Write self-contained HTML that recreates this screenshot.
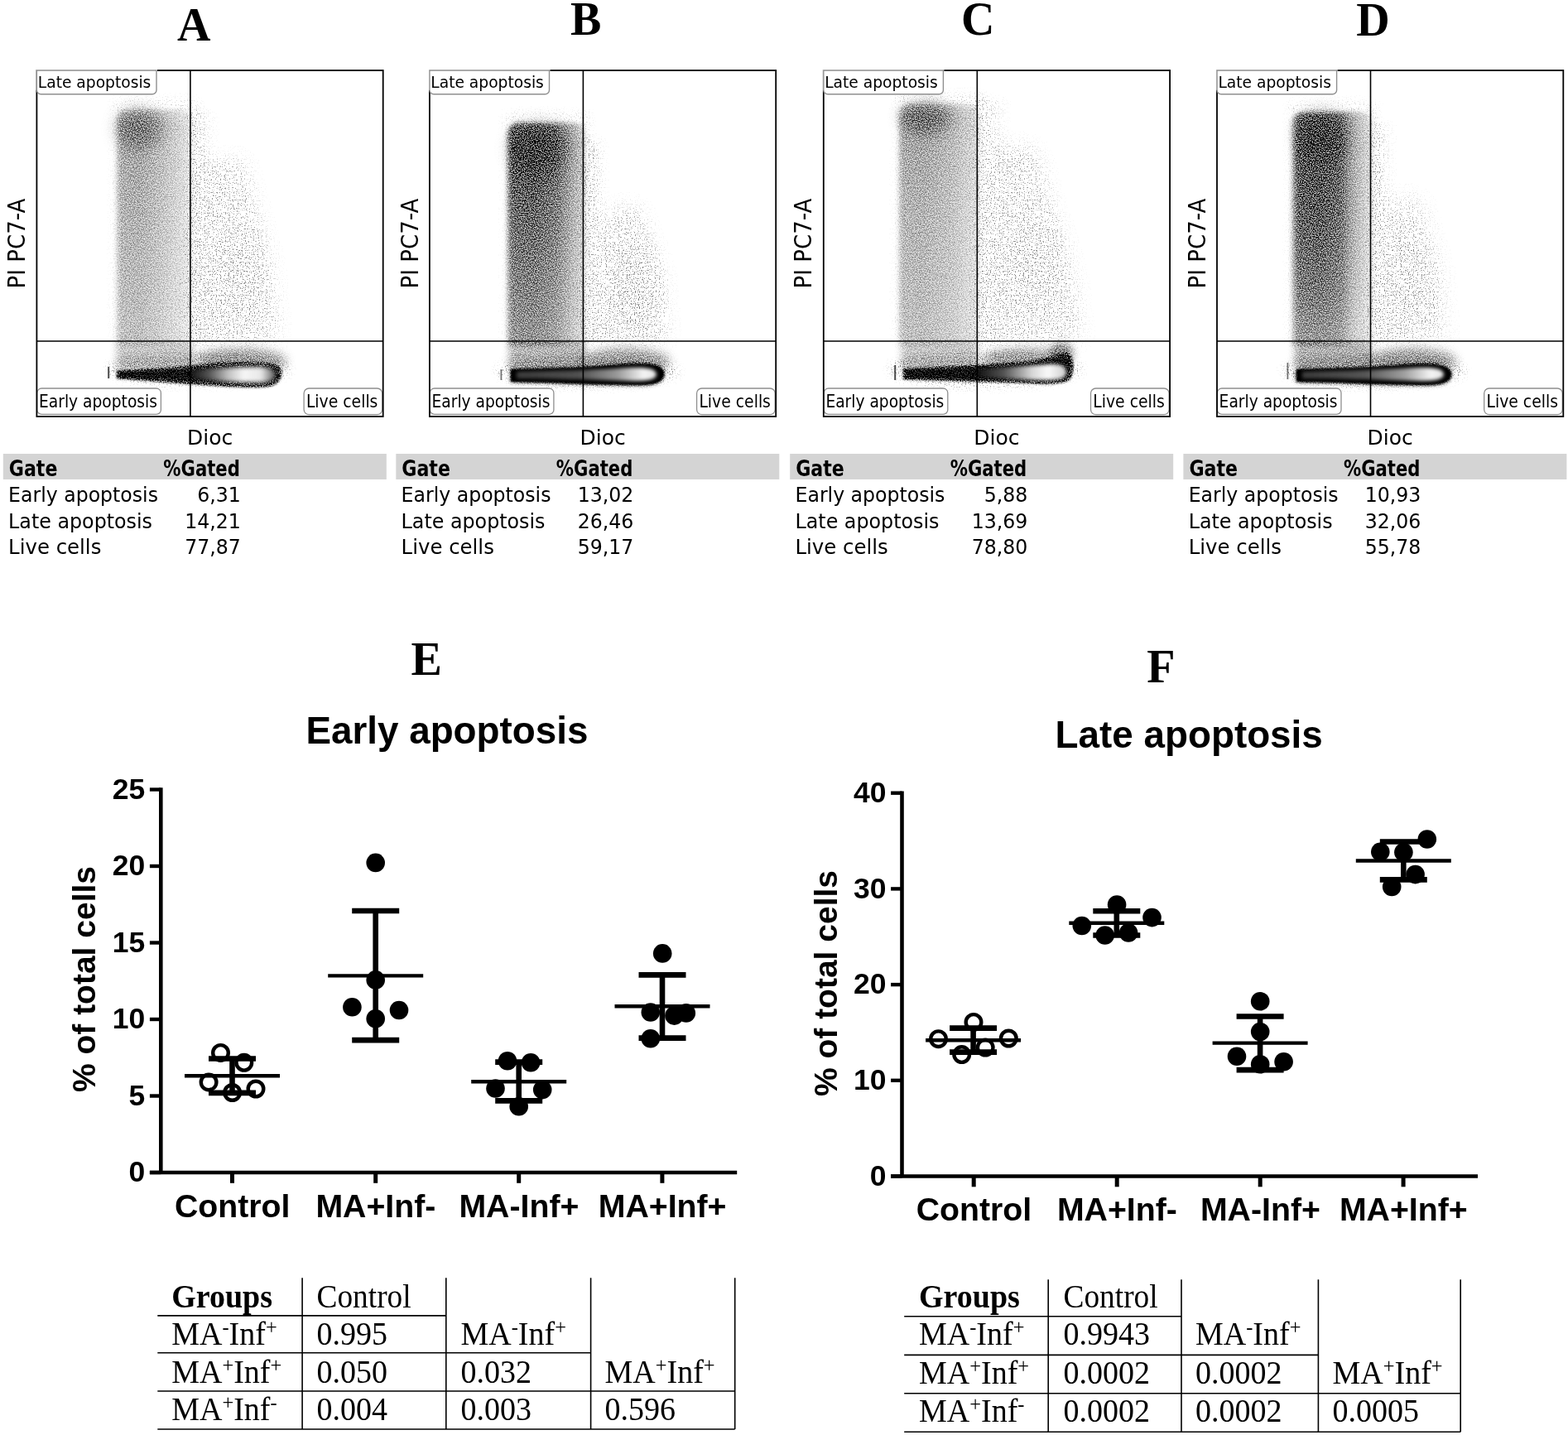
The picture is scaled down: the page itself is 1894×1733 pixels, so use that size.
<!DOCTYPE html><html><head><meta charset="utf-8"><title>Apoptosis figure</title>
<style>html,body{margin:0;padding:0;background:#fff;width:1894px;height:1733px;overflow:hidden}svg{display:block}</style></head><body>
<svg width="1894" height="1733" viewBox="0 0 1894 1733">
<defs>
<clipPath id="clip0"><rect x="44.4" y="85.0" width="418.3" height="418.0"/></clipPath>
<clipPath id="clip1"><rect x="518.9" y="85.0" width="418.3" height="418.0"/></clipPath>
<clipPath id="clip2"><rect x="994.8" y="85.0" width="418.3" height="418.0"/></clipPath>
<clipPath id="clip3"><rect x="1470.0" y="85.0" width="418.3" height="418.0"/></clipPath>
<filter id="dith" filterUnits="userSpaceOnUse" x="0" y="80" width="1894" height="430" color-interpolation-filters="sRGB"><feTurbulence type="fractalNoise" baseFrequency="0.75" numOctaves="1" seed="7" result="t"/><feComponentTransfer in="t" result="u"><feFuncR type="table" tableValues="0 0 0 0 0.002 0.008 0.026 0.073 0.166 0.314 0.5 0.686 0.834 0.927 0.974 0.992 0.998 1 1 1 1"/></feComponentTransfer><feColorMatrix in="u" type="matrix" values="0 0 0 0 0 0 0 0 0 0 0 0 0 0 0 1 0 0 0 0" result="ua"/><feComposite in="SourceAlpha" in2="ua" operator="arithmetic" k1="1.4" k2="0.3" k3="0" k4="0" result="c"/><feColorMatrix in="c" type="matrix" values="0 0 0 0 0 0 0 0 0 0 0 0 0 0 0 0 0 0 1 0"/><feGaussianBlur stdDeviation="0.4"/></filter>
<filter id="dithb" filterUnits="userSpaceOnUse" x="0" y="80" width="1894" height="430" color-interpolation-filters="sRGB"><feTurbulence type="fractalNoise" baseFrequency="0.8" numOctaves="1" seed="3" result="t"/><feComponentTransfer in="t" result="u"><feFuncR type="table" tableValues="0 0 0 0 0.002 0.008 0.026 0.073 0.166 0.314 0.5 0.686 0.834 0.927 0.974 0.992 0.998 1 1 1 1"/></feComponentTransfer><feColorMatrix in="u" type="matrix" values="0 0 0 0 0 0 0 0 0 0 0 0 0 0 0 1 0 0 0 0" result="ua"/><feComposite in="SourceAlpha" in2="ua" operator="arithmetic" k1="0" k2="3" k3="-3" k4="0.5" result="c"/><feComponentTransfer in="SourceAlpha" result="m"><feFuncA type="linear" slope="25"/></feComponentTransfer><feComposite in="c" in2="m" operator="in" result="c2"/><feColorMatrix in="c2" type="matrix" values="0 0 0 0 0 0 0 0 0 0 0 0 0 0 0 0 0 0 0.7 0"/><feGaussianBlur stdDeviation="0.55"/></filter>
<filter id="b0_3" x="-50%" y="-50%" width="200%" height="200%"><feGaussianBlur stdDeviation="0.3"/></filter>
<filter id="b0_9" x="-50%" y="-50%" width="200%" height="200%"><feGaussianBlur stdDeviation="0.9"/></filter>
<filter id="b1_2" x="-50%" y="-50%" width="200%" height="200%"><feGaussianBlur stdDeviation="1.2"/></filter>
<filter id="b1_6" x="-50%" y="-50%" width="200%" height="200%"><feGaussianBlur stdDeviation="1.6"/></filter>
<filter id="b2_2" x="-50%" y="-50%" width="200%" height="200%"><feGaussianBlur stdDeviation="2.2"/></filter>
<filter id="b2_4" x="-50%" y="-50%" width="200%" height="200%"><feGaussianBlur stdDeviation="2.4"/></filter>
<filter id="b2_5" x="-50%" y="-50%" width="200%" height="200%"><feGaussianBlur stdDeviation="2.5"/></filter>
<filter id="b2_8" x="-50%" y="-50%" width="200%" height="200%"><feGaussianBlur stdDeviation="2.8"/></filter>
<filter id="b4" x="-50%" y="-50%" width="200%" height="200%"><feGaussianBlur stdDeviation="4"/></filter>
<filter id="b5" x="-50%" y="-50%" width="200%" height="200%"><feGaussianBlur stdDeviation="5"/></filter>
<filter id="b6" x="-50%" y="-50%" width="200%" height="200%"><feGaussianBlur stdDeviation="6"/></filter>
<filter id="b8" x="-50%" y="-50%" width="200%" height="200%"><feGaussianBlur stdDeviation="8"/></filter>
<filter id="b9" x="-50%" y="-50%" width="200%" height="200%"><feGaussianBlur stdDeviation="9"/></filter>
<filter id="b10" x="-50%" y="-50%" width="200%" height="200%"><feGaussianBlur stdDeviation="10"/></filter>
<filter id="b12" x="-50%" y="-50%" width="200%" height="200%"><feGaussianBlur stdDeviation="12"/></filter>
<filter id="b14" x="-50%" y="-50%" width="200%" height="200%"><feGaussianBlur stdDeviation="14"/></filter>
</defs>
<rect width="1894" height="1733" fill="#fff"/>
<text transform="translate(214.00 48.80)" style="font-family:'Liberation Serif','Times New Roman',serif;font-weight:bold;font-size:56px">A</text>
<g clip-path="url(#clip0)"><g filter="url(#dithb)"><rect x="137" y="120" width="103" height="295" fill="#000" fill-opacity="0.025" filter="url(#b6)"/><rect x="231" y="135" width="32" height="277" fill="url(#g0)" filter="url(#b6)"/><path d="M248 200L292 192L326 320L334 412L236 412L238 300Z" fill="#000" fill-opacity="0.055" filter="url(#b12)"/><ellipse cx="286" cy="335" rx="25" ry="55" fill="#000" fill-opacity="0.04" filter="url(#b12)"/><ellipse cx="240" cy="446" rx="110" ry="18" fill="#000" fill-opacity="0.07" filter="url(#b6)"/></g><g filter="url(#dith)"><g filter="url(#b2_5)"><g clip-path="url(#g4)"><rect x="140" y="126" width="96" height="292" fill="url(#g1)" mask="url(#g3)"/></g></g><ellipse cx="168" cy="155" rx="28" ry="24" fill="#000" fill-opacity="0.26" filter="url(#b9)"/><rect x="141" y="413" width="92" height="33" fill="url(#g5)" filter="url(#b4)"/><ellipse cx="290" cy="436" rx="56" ry="15" fill="#000" fill-opacity="0.36" filter="url(#b6)"/><path d="M141 447.5C180 446 215 444 240 441C270 437 320 436 336 442C344 450 340 465 322 467C290 469 240 464 141 457Z" fill="#000" fill-opacity="1.0" filter="url(#b1_6)"/></g><path d="M145 449.5C190 448.5 230 447 260 445C300 443 330 443 333 449C335 456 330 461 318 461C280 462 230 458 145 455Z" fill="#000" fill-opacity="0.55" filter="url(#b1_2)"/><path d="M130.2 443h2v14h-2z" fill="#000" fill-opacity="0.7" filter="url(#b0_3)"/><path d="M232 447C260 444 290 443 315 443C329 444 333 448 333 453C333 459 326 462 312 462C285 462 258 460 232 457Z" fill="url(#g6)" filter="url(#b2_4)"/></g>
<line x1="229.9" y1="85.0" x2="229.9" y2="503.0" stroke="#000" stroke-width="1.6"/>
<line x1="44.4" y1="412.0" x2="462.7" y2="412.0" stroke="#000" stroke-width="1.6"/>
<rect x="44.8" y="469" width="149.6" height="31.4" rx="5.5" fill="#fff" stroke="#8f8f8f" stroke-width="1.3"/>
<text transform="translate(47.00 492.30) scale(1.0220 1)" style="font-family:'DejaVu Sans','Liberation Sans',sans-serif;font-stretch:condensed;font-size:20.3px">Early apoptosis</text>
<rect x="367.1" y="469" width="94.6" height="31.6" rx="6" fill="#fff" stroke="#8f8f8f" stroke-width="1.3"/>
<text transform="translate(369.90 492.30) scale(1.0300 1)" style="font-family:'DejaVu Sans','Liberation Sans',sans-serif;font-stretch:condensed;font-size:20.3px">Live cells</text>
<rect x="44.4" y="85.0" width="418.3" height="418.0" fill="none" stroke="#000" stroke-width="1.8"/>
<path d="M43.5 84.1H189.9V108.8H43.5Z" fill="#fff"/>
<path d="M44.4 85H189.0V108.8A5 5 0 0 1 184.0 113.8H49.4A5 5 0 0 1 44.4 108.8Z" fill="#fff" stroke="#8f8f8f" stroke-width="1.4"/>
<text transform="translate(45.80 105.60) scale(1.0230 1)" style="font-family:'DejaVu Sans','Liberation Sans',sans-serif;font-stretch:condensed;font-size:20.3px">Late apoptosis</text>
<text transform="translate(30.00 294.00) rotate(-90) scale(1.0350 1)" style="font-family:'DejaVu Sans','Liberation Sans',sans-serif;font-stretch:condensed;font-size:28px" text-anchor="middle">PI PC7-A</text>
<text transform="translate(253.55 536.70) scale(1.0900 1)" style="font-family:'DejaVu Sans','Liberation Sans',sans-serif;font-stretch:condensed;font-size:25.5px" text-anchor="middle">Dioc</text>
<rect x="3.8" y="548" width="463" height="31" fill="#d4d4d4"/>
<text transform="translate(10.80 574.60) scale(0.9450 1)" style="font-family:'DejaVu Sans','Liberation Sans',sans-serif;font-stretch:condensed;font-weight:bold;font-size:26px">Gate</text>
<text transform="translate(289.80 574.60) scale(0.9050 1)" style="font-family:'DejaVu Sans','Liberation Sans',sans-serif;font-stretch:condensed;font-weight:bold;font-size:26px" text-anchor="end">%Gated</text>
<text transform="translate(10.10 606.00) scale(1.0500 1)" style="font-family:'DejaVu Sans','Liberation Sans',sans-serif;font-stretch:condensed;font-size:25px">Early apoptosis</text>
<text transform="translate(290.80 606.00) scale(1.0500 1)" style="font-family:'DejaVu Sans','Liberation Sans',sans-serif;font-stretch:condensed;font-size:25px" text-anchor="end">6,31</text>
<text transform="translate(10.10 637.80) scale(1.0580 1)" style="font-family:'DejaVu Sans','Liberation Sans',sans-serif;font-stretch:condensed;font-size:25px">Late apoptosis</text>
<text transform="translate(290.80 637.80) scale(1.0500 1)" style="font-family:'DejaVu Sans','Liberation Sans',sans-serif;font-stretch:condensed;font-size:25px" text-anchor="end">14,21</text>
<text transform="translate(10.10 669.00) scale(1.0850 1)" style="font-family:'DejaVu Sans','Liberation Sans',sans-serif;font-stretch:condensed;font-size:25px">Live cells</text>
<text transform="translate(290.80 669.00) scale(1.0500 1)" style="font-family:'DejaVu Sans','Liberation Sans',sans-serif;font-stretch:condensed;font-size:25px" text-anchor="end">77,87</text>
<text transform="translate(689.00 41.90)" style="font-family:'Liberation Serif','Times New Roman',serif;font-weight:bold;font-size:56px">B</text>
<g clip-path="url(#clip1)"><g filter="url(#dithb)"><rect x="610" y="136" width="103" height="279" fill="#000" fill-opacity="0.025" filter="url(#b6)"/><rect x="703" y="170" width="30" height="242" fill="url(#g7)" filter="url(#b6)"/><path d="M735 255L770 250L798 330L803 412L722 412L724 330Z" fill="#000" fill-opacity="0.06" filter="url(#b12)"/><ellipse cx="765" cy="350" rx="24" ry="55" fill="#000" fill-opacity="0.045" filter="url(#b12)"/><ellipse cx="710" cy="448" rx="110" ry="18" fill="#000" fill-opacity="0.07" filter="url(#b6)"/></g><g filter="url(#dith)"><g filter="url(#b2_5)"><g clip-path="url(#g11)"><rect x="612" y="142" width="96" height="276" fill="url(#g8)" mask="url(#g10)"/></g></g><ellipse cx="650" cy="180" rx="32" ry="30" fill="#000" fill-opacity="0.3" filter="url(#b10)"/><rect x="615" y="413" width="92" height="33" fill="url(#g12)" filter="url(#b4)"/><ellipse cx="755" cy="436" rx="54" ry="15" fill="#000" fill-opacity="0.36" filter="url(#b6)"/><path d="M617 446C660 445 700 444 740 441C775 438 800 438 802 450C803 462 790 465 770 465C730 465 680 462 617 461Z" fill="#000" fill-opacity="0.9" filter="url(#b2_8)"/></g><path d="M617 446C660 445 700 444 740 441C775 438 800 438 802 450C803 462 790 465 770 465C730 465 680 462 617 461Z" fill="#000" fill-opacity="1.0" filter="url(#b0_9)"/><path d="M604.5 446h1.8v13h-1.8z" fill="#000" fill-opacity="0.55" filter="url(#b0_3)"/><path d="M624 449C670 448 710 447 745 445C778 443 792 444 793 452C793 459 780 460 765 460C720 459 680 457 624 457Z" fill="url(#g13)" filter="url(#b2_2)"/></g>
<line x1="704.4" y1="85.0" x2="704.4" y2="503.0" stroke="#000" stroke-width="1.6"/>
<line x1="518.9" y1="412.0" x2="937.2" y2="412.0" stroke="#000" stroke-width="1.6"/>
<rect x="519.3" y="469" width="149.6" height="31.4" rx="5.5" fill="#fff" stroke="#8f8f8f" stroke-width="1.3"/>
<text transform="translate(521.50 492.30) scale(1.0220 1)" style="font-family:'DejaVu Sans','Liberation Sans',sans-serif;font-stretch:condensed;font-size:20.3px">Early apoptosis</text>
<rect x="841.6" y="469" width="94.6" height="31.6" rx="6" fill="#fff" stroke="#8f8f8f" stroke-width="1.3"/>
<text transform="translate(844.40 492.30) scale(1.0300 1)" style="font-family:'DejaVu Sans','Liberation Sans',sans-serif;font-stretch:condensed;font-size:20.3px">Live cells</text>
<rect x="518.9" y="85.0" width="418.3" height="418.0" fill="none" stroke="#000" stroke-width="1.8"/>
<path d="M518.0 84.1H664.4V108.8H518.0Z" fill="#fff"/>
<path d="M518.9 85H663.5V108.8A5 5 0 0 1 658.5 113.8H523.9A5 5 0 0 1 518.9 108.8Z" fill="#fff" stroke="#8f8f8f" stroke-width="1.4"/>
<text transform="translate(520.30 105.60) scale(1.0230 1)" style="font-family:'DejaVu Sans','Liberation Sans',sans-serif;font-stretch:condensed;font-size:20.3px">Late apoptosis</text>
<text transform="translate(504.50 294.00) rotate(-90) scale(1.0350 1)" style="font-family:'DejaVu Sans','Liberation Sans',sans-serif;font-stretch:condensed;font-size:28px" text-anchor="middle">PI PC7-A</text>
<text transform="translate(728.05 536.70) scale(1.0900 1)" style="font-family:'DejaVu Sans','Liberation Sans',sans-serif;font-stretch:condensed;font-size:25.5px" text-anchor="middle">Dioc</text>
<rect x="478.3" y="548" width="463" height="31" fill="#d4d4d4"/>
<text transform="translate(485.30 574.60) scale(0.9450 1)" style="font-family:'DejaVu Sans','Liberation Sans',sans-serif;font-stretch:condensed;font-weight:bold;font-size:26px">Gate</text>
<text transform="translate(764.30 574.60) scale(0.9050 1)" style="font-family:'DejaVu Sans','Liberation Sans',sans-serif;font-stretch:condensed;font-weight:bold;font-size:26px" text-anchor="end">%Gated</text>
<text transform="translate(484.60 606.00) scale(1.0500 1)" style="font-family:'DejaVu Sans','Liberation Sans',sans-serif;font-stretch:condensed;font-size:25px">Early apoptosis</text>
<text transform="translate(765.30 606.00) scale(1.0500 1)" style="font-family:'DejaVu Sans','Liberation Sans',sans-serif;font-stretch:condensed;font-size:25px" text-anchor="end">13,02</text>
<text transform="translate(484.60 637.80) scale(1.0580 1)" style="font-family:'DejaVu Sans','Liberation Sans',sans-serif;font-stretch:condensed;font-size:25px">Late apoptosis</text>
<text transform="translate(765.30 637.80) scale(1.0500 1)" style="font-family:'DejaVu Sans','Liberation Sans',sans-serif;font-stretch:condensed;font-size:25px" text-anchor="end">26,46</text>
<text transform="translate(484.60 669.00) scale(1.0850 1)" style="font-family:'DejaVu Sans','Liberation Sans',sans-serif;font-stretch:condensed;font-size:25px">Live cells</text>
<text transform="translate(765.30 669.00) scale(1.0500 1)" style="font-family:'DejaVu Sans','Liberation Sans',sans-serif;font-stretch:condensed;font-size:25px" text-anchor="end">59,17</text>
<text transform="translate(1161.00 42.30)" style="font-family:'Liberation Serif','Times New Roman',serif;font-weight:bold;font-size:56px">C</text>
<g clip-path="url(#clip2)"><g filter="url(#dithb)"><rect x="1082" y="113" width="106" height="302" fill="#000" fill-opacity="0.025" filter="url(#b6)"/><rect x="1180" y="120" width="40" height="292" fill="url(#g14)" filter="url(#b6)"/><path d="M1205 175L1250 180L1295 330L1305 412L1188 412L1193 300Z" fill="#000" fill-opacity="0.05" filter="url(#b12)"/><ellipse cx="1245" cy="320" rx="28" ry="55" fill="#000" fill-opacity="0.045" filter="url(#b14)"/><ellipse cx="1190" cy="446" rx="116" ry="20" fill="#000" fill-opacity="0.07" filter="url(#b6)"/></g><g filter="url(#dith)"><g filter="url(#b2_5)"><g clip-path="url(#g18)"><rect x="1085" y="119" width="99" height="299" fill="url(#g15)" mask="url(#g17)"/></g></g><ellipse cx="1118" cy="142" rx="30" ry="20" fill="#000" fill-opacity="0.3" filter="url(#b8)"/><rect x="1089" y="413" width="92" height="33" fill="url(#g19)" filter="url(#b4)"/><ellipse cx="1238" cy="435" rx="52" ry="14" fill="#000" fill-opacity="0.34" filter="url(#b6)"/><ellipse cx="1282" cy="427" rx="14" ry="13" fill="#000" fill-opacity="0.45" filter="url(#b5)"/><path d="M1091 445C1150 443 1200 440 1240 437C1265 434 1280 428 1288 426C1298 428 1298 452 1292 458C1282 466 1250 463 1230 462C1180 461 1130 459 1091 458Z" fill="#000" fill-opacity="1.0" filter="url(#b1_6)"/></g><path d="M1095 447.5C1150 446 1200 443 1240 440C1265 437 1280 432 1286 431C1293 433 1293 450 1288 455C1280 461 1250 459 1230 459C1180 458 1130 457 1095 456Z" fill="#000" fill-opacity="0.55" filter="url(#b1_2)"/><path d="M1080.2 441h2v18h-2z" fill="#000" fill-opacity="0.7" filter="url(#b0_3)"/><path d="M1180 446C1210 444 1240 442 1265 440C1282 439 1288 442 1288 450C1288 458 1278 459 1262 459C1240 459 1210 457 1180 455Z" fill="url(#g20)" filter="url(#b2_2)"/></g>
<line x1="1180.3" y1="85.0" x2="1180.3" y2="503.0" stroke="#000" stroke-width="1.6"/>
<line x1="994.8" y1="412.0" x2="1413.1" y2="412.0" stroke="#000" stroke-width="1.6"/>
<rect x="995.2" y="469" width="149.6" height="31.4" rx="5.5" fill="#fff" stroke="#8f8f8f" stroke-width="1.3"/>
<text transform="translate(997.40 492.30) scale(1.0220 1)" style="font-family:'DejaVu Sans','Liberation Sans',sans-serif;font-stretch:condensed;font-size:20.3px">Early apoptosis</text>
<rect x="1317.5" y="469" width="94.6" height="31.6" rx="6" fill="#fff" stroke="#8f8f8f" stroke-width="1.3"/>
<text transform="translate(1320.30 492.30) scale(1.0300 1)" style="font-family:'DejaVu Sans','Liberation Sans',sans-serif;font-stretch:condensed;font-size:20.3px">Live cells</text>
<rect x="994.8" y="85.0" width="418.3" height="418.0" fill="none" stroke="#000" stroke-width="1.8"/>
<path d="M993.9 84.1H1140.3V108.8H993.9Z" fill="#fff"/>
<path d="M994.8 85H1139.4V108.8A5 5 0 0 1 1134.4 113.8H999.8A5 5 0 0 1 994.8 108.8Z" fill="#fff" stroke="#8f8f8f" stroke-width="1.4"/>
<text transform="translate(996.20 105.60) scale(1.0230 1)" style="font-family:'DejaVu Sans','Liberation Sans',sans-serif;font-stretch:condensed;font-size:20.3px">Late apoptosis</text>
<text transform="translate(980.40 294.00) rotate(-90) scale(1.0350 1)" style="font-family:'DejaVu Sans','Liberation Sans',sans-serif;font-stretch:condensed;font-size:28px" text-anchor="middle">PI PC7-A</text>
<text transform="translate(1203.95 536.70) scale(1.0900 1)" style="font-family:'DejaVu Sans','Liberation Sans',sans-serif;font-stretch:condensed;font-size:25.5px" text-anchor="middle">Dioc</text>
<rect x="954.2" y="548" width="463" height="31" fill="#d4d4d4"/>
<text transform="translate(961.20 574.60) scale(0.9450 1)" style="font-family:'DejaVu Sans','Liberation Sans',sans-serif;font-stretch:condensed;font-weight:bold;font-size:26px">Gate</text>
<text transform="translate(1240.20 574.60) scale(0.9050 1)" style="font-family:'DejaVu Sans','Liberation Sans',sans-serif;font-stretch:condensed;font-weight:bold;font-size:26px" text-anchor="end">%Gated</text>
<text transform="translate(960.50 606.00) scale(1.0500 1)" style="font-family:'DejaVu Sans','Liberation Sans',sans-serif;font-stretch:condensed;font-size:25px">Early apoptosis</text>
<text transform="translate(1241.20 606.00) scale(1.0500 1)" style="font-family:'DejaVu Sans','Liberation Sans',sans-serif;font-stretch:condensed;font-size:25px" text-anchor="end">5,88</text>
<text transform="translate(960.50 637.80) scale(1.0580 1)" style="font-family:'DejaVu Sans','Liberation Sans',sans-serif;font-stretch:condensed;font-size:25px">Late apoptosis</text>
<text transform="translate(1241.20 637.80) scale(1.0500 1)" style="font-family:'DejaVu Sans','Liberation Sans',sans-serif;font-stretch:condensed;font-size:25px" text-anchor="end">13,69</text>
<text transform="translate(960.50 669.00) scale(1.0850 1)" style="font-family:'DejaVu Sans','Liberation Sans',sans-serif;font-stretch:condensed;font-size:25px">Live cells</text>
<text transform="translate(1241.20 669.00) scale(1.0500 1)" style="font-family:'DejaVu Sans','Liberation Sans',sans-serif;font-stretch:condensed;font-size:25px" text-anchor="end">78,80</text>
<text transform="translate(1638.20 43.30)" style="font-family:'Liberation Serif','Times New Roman',serif;font-weight:bold;font-size:56px">D</text>
<g clip-path="url(#clip3)"><g filter="url(#dithb)"><rect x="1557" y="123" width="106" height="292" fill="#000" fill-opacity="0.025" filter="url(#b6)"/><rect x="1655" y="150" width="30" height="262" fill="url(#g21)" filter="url(#b6)"/><path d="M1675 240L1715 240L1740 330L1745 412L1662 412L1662 320Z" fill="#000" fill-opacity="0.045" filter="url(#b12)"/><ellipse cx="1700" cy="340" rx="24" ry="60" fill="#000" fill-opacity="0.04" filter="url(#b12)"/><ellipse cx="1660" cy="448" rx="110" ry="18" fill="#000" fill-opacity="0.07" filter="url(#b6)"/></g><g filter="url(#dith)"><g filter="url(#b2_5)"><g clip-path="url(#g25)"><rect x="1560" y="129" width="100" height="289" fill="url(#g22)" mask="url(#g24)"/></g></g><ellipse cx="1597" cy="165" rx="28" ry="30" fill="#000" fill-opacity="0.32" filter="url(#b10)"/><rect x="1564" y="413" width="92" height="33" fill="url(#g26)" filter="url(#b4)"/><ellipse cx="1705" cy="436" rx="54" ry="15" fill="#000" fill-opacity="0.38" filter="url(#b6)"/><path d="M1566 446C1610 445 1650 444 1690 441C1725 438 1751 439 1753 451C1754 462 1740 465 1720 465C1680 465 1630 462 1566 461Z" fill="#000" fill-opacity="0.9" filter="url(#b2_8)"/></g><path d="M1566 446C1610 445 1650 444 1690 441C1725 438 1751 439 1753 451C1754 462 1740 465 1720 465C1680 465 1630 462 1566 461Z" fill="#000" fill-opacity="1.0" filter="url(#b0_9)"/><path d="M1554.5 438h1.8v20h-1.8z" fill="#000" fill-opacity="0.55" filter="url(#b0_3)"/><path d="M1573 449C1615 448 1655 447 1695 445C1728 443 1743 444 1744 452C1744 459 1730 460 1715 460C1670 459 1630 457 1573 457Z" fill="url(#g27)" filter="url(#b2_2)"/></g>
<line x1="1655.5" y1="85.0" x2="1655.5" y2="503.0" stroke="#000" stroke-width="1.6"/>
<line x1="1470.0" y1="412.0" x2="1888.3" y2="412.0" stroke="#000" stroke-width="1.6"/>
<rect x="1470.4" y="469" width="149.6" height="31.4" rx="5.5" fill="#fff" stroke="#8f8f8f" stroke-width="1.3"/>
<text transform="translate(1472.60 492.30) scale(1.0220 1)" style="font-family:'DejaVu Sans','Liberation Sans',sans-serif;font-stretch:condensed;font-size:20.3px">Early apoptosis</text>
<rect x="1792.7" y="469" width="94.6" height="31.6" rx="6" fill="#fff" stroke="#8f8f8f" stroke-width="1.3"/>
<text transform="translate(1795.50 492.30) scale(1.0300 1)" style="font-family:'DejaVu Sans','Liberation Sans',sans-serif;font-stretch:condensed;font-size:20.3px">Live cells</text>
<rect x="1470.0" y="85.0" width="418.3" height="418.0" fill="none" stroke="#000" stroke-width="1.8"/>
<path d="M1469.1 84.1H1615.5V108.8H1469.1Z" fill="#fff"/>
<path d="M1470.0 85H1614.6V108.8A5 5 0 0 1 1609.6 113.8H1475.0A5 5 0 0 1 1470.0 108.8Z" fill="#fff" stroke="#8f8f8f" stroke-width="1.4"/>
<text transform="translate(1471.40 105.60) scale(1.0230 1)" style="font-family:'DejaVu Sans','Liberation Sans',sans-serif;font-stretch:condensed;font-size:20.3px">Late apoptosis</text>
<text transform="translate(1455.60 294.00) rotate(-90) scale(1.0350 1)" style="font-family:'DejaVu Sans','Liberation Sans',sans-serif;font-stretch:condensed;font-size:28px" text-anchor="middle">PI PC7-A</text>
<text transform="translate(1679.15 536.70) scale(1.0900 1)" style="font-family:'DejaVu Sans','Liberation Sans',sans-serif;font-stretch:condensed;font-size:25.5px" text-anchor="middle">Dioc</text>
<rect x="1429.4" y="548" width="463" height="31" fill="#d4d4d4"/>
<text transform="translate(1436.40 574.60) scale(0.9450 1)" style="font-family:'DejaVu Sans','Liberation Sans',sans-serif;font-stretch:condensed;font-weight:bold;font-size:26px">Gate</text>
<text transform="translate(1715.40 574.60) scale(0.9050 1)" style="font-family:'DejaVu Sans','Liberation Sans',sans-serif;font-stretch:condensed;font-weight:bold;font-size:26px" text-anchor="end">%Gated</text>
<text transform="translate(1435.70 606.00) scale(1.0500 1)" style="font-family:'DejaVu Sans','Liberation Sans',sans-serif;font-stretch:condensed;font-size:25px">Early apoptosis</text>
<text transform="translate(1716.40 606.00) scale(1.0500 1)" style="font-family:'DejaVu Sans','Liberation Sans',sans-serif;font-stretch:condensed;font-size:25px" text-anchor="end">10,93</text>
<text transform="translate(1435.70 637.80) scale(1.0580 1)" style="font-family:'DejaVu Sans','Liberation Sans',sans-serif;font-stretch:condensed;font-size:25px">Late apoptosis</text>
<text transform="translate(1716.40 637.80) scale(1.0500 1)" style="font-family:'DejaVu Sans','Liberation Sans',sans-serif;font-stretch:condensed;font-size:25px" text-anchor="end">32,06</text>
<text transform="translate(1435.70 669.00) scale(1.0850 1)" style="font-family:'DejaVu Sans','Liberation Sans',sans-serif;font-stretch:condensed;font-size:25px">Live cells</text>
<text transform="translate(1716.40 669.00) scale(1.0500 1)" style="font-family:'DejaVu Sans','Liberation Sans',sans-serif;font-stretch:condensed;font-size:25px" text-anchor="end">55,78</text>
<defs><linearGradient id="g0" gradientUnits="userSpaceOnUse" x1="231" y1="0" x2="263" y2="0"><stop offset="0" stop-color="#000" stop-opacity="0.045"/><stop offset="1" stop-color="#000" stop-opacity="0.0"/></linearGradient><linearGradient id="g1" gradientUnits="userSpaceOnUse" x1="0" y1="126" x2="0" y2="418"><stop offset="-0.0068" stop-color="#000" stop-opacity="0.0"/><stop offset="0.0342" stop-color="#000" stop-opacity="0.27"/><stop offset="0.0822" stop-color="#000" stop-opacity="0.35"/><stop offset="0.2534" stop-color="#000" stop-opacity="0.32"/><stop offset="0.5959" stop-color="#000" stop-opacity="0.27"/><stop offset="0.9555" stop-color="#000" stop-opacity="0.23"/><stop offset="1.0000" stop-color="#000" stop-opacity="0.18"/></linearGradient><linearGradient id="g2" gradientUnits="userSpaceOnUse" x1="140" y1="0" x2="236" y2="0"><stop offset="0.0000" stop-color="#fff" stop-opacity="0.3"/><stop offset="0.0521" stop-color="#fff" stop-opacity="0.95"/><stop offset="0.2917" stop-color="#fff" stop-opacity="1.0"/><stop offset="0.5729" stop-color="#fff" stop-opacity="0.72"/><stop offset="0.8542" stop-color="#fff" stop-opacity="0.38"/><stop offset="0.9792" stop-color="#fff" stop-opacity="0.15"/></linearGradient><mask id="g3" maskUnits="userSpaceOnUse" x="120" y="106" width="136" height="332"><rect x="120" y="106" width="136" height="332" fill="url(#g2)"/></mask><clipPath id="g4"><rect x="140" y="132" width="96" height="308" rx="16" ry="16"/></clipPath><linearGradient id="g5" gradientUnits="userSpaceOnUse" x1="0" y1="413" x2="0" y2="446"><stop offset="0" stop-color="#000" stop-opacity="0.17"/><stop offset="1" stop-color="#000" stop-opacity="0.32"/></linearGradient><linearGradient id="g6" gradientUnits="userSpaceOnUse" x1="232" y1="0" x2="336" y2="0"><stop offset="0" stop-color="#1a1a1a"/><stop offset="0.2" stop-color="#555"/><stop offset="0.42" stop-color="#c0c0c0"/><stop offset="0.6" stop-color="#f6f6f6"/><stop offset="0.8" stop-color="#e8e8e8"/><stop offset="1" stop-color="#404040"/></linearGradient><linearGradient id="g7" gradientUnits="userSpaceOnUse" x1="703" y1="0" x2="733" y2="0"><stop offset="0" stop-color="#000" stop-opacity="0.07"/><stop offset="1" stop-color="#000" stop-opacity="0.0"/></linearGradient><linearGradient id="g8" gradientUnits="userSpaceOnUse" x1="0" y1="142" x2="0" y2="418"><stop offset="-0.0072" stop-color="#000" stop-opacity="0.0"/><stop offset="0.0362" stop-color="#000" stop-opacity="0.64"/><stop offset="0.1196" stop-color="#000" stop-opacity="0.72"/><stop offset="0.3551" stop-color="#000" stop-opacity="0.62"/><stop offset="0.6812" stop-color="#000" stop-opacity="0.5"/><stop offset="0.9529" stop-color="#000" stop-opacity="0.41"/><stop offset="1.0000" stop-color="#000" stop-opacity="0.37"/></linearGradient><linearGradient id="g9" gradientUnits="userSpaceOnUse" x1="612" y1="0" x2="708" y2="0"><stop offset="0.0000" stop-color="#fff" stop-opacity="0.3"/><stop offset="0.0521" stop-color="#fff" stop-opacity="0.95"/><stop offset="0.3438" stop-color="#fff" stop-opacity="1.0"/><stop offset="0.6250" stop-color="#fff" stop-opacity="0.82"/><stop offset="0.8125" stop-color="#fff" stop-opacity="0.5"/><stop offset="0.9375" stop-color="#fff" stop-opacity="0.3"/><stop offset="1.0000" stop-color="#fff" stop-opacity="0.15"/></linearGradient><mask id="g10" maskUnits="userSpaceOnUse" x="592" y="122" width="136" height="316"><rect x="592" y="122" width="136" height="316" fill="url(#g9)"/></mask><clipPath id="g11"><rect x="612" y="148" width="96" height="292" rx="16" ry="16"/></clipPath><linearGradient id="g12" gradientUnits="userSpaceOnUse" x1="0" y1="413" x2="0" y2="446"><stop offset="0" stop-color="#000" stop-opacity="0.22"/><stop offset="1" stop-color="#000" stop-opacity="0.4"/></linearGradient><linearGradient id="g13" gradientUnits="userSpaceOnUse" x1="620" y1="0" x2="795" y2="0"><stop offset="0" stop-color="#3c3c3c"/><stop offset="0.45" stop-color="#505050"/><stop offset="0.72" stop-color="#9a9a9a"/><stop offset="0.9" stop-color="#f4f4f4"/><stop offset="1" stop-color="#e0e0e0"/></linearGradient><linearGradient id="g14" gradientUnits="userSpaceOnUse" x1="1180" y1="0" x2="1220" y2="0"><stop offset="0" stop-color="#000" stop-opacity="0.05"/><stop offset="1" stop-color="#000" stop-opacity="0.0"/></linearGradient><linearGradient id="g15" gradientUnits="userSpaceOnUse" x1="0" y1="119" x2="0" y2="418"><stop offset="-0.0067" stop-color="#000" stop-opacity="0.0"/><stop offset="0.0334" stop-color="#000" stop-opacity="0.29"/><stop offset="0.0702" stop-color="#000" stop-opacity="0.36"/><stop offset="0.2040" stop-color="#000" stop-opacity="0.33"/><stop offset="0.4716" stop-color="#000" stop-opacity="0.28"/><stop offset="0.9565" stop-color="#000" stop-opacity="0.23"/><stop offset="1.0000" stop-color="#000" stop-opacity="0.18"/></linearGradient><linearGradient id="g16" gradientUnits="userSpaceOnUse" x1="1085" y1="0" x2="1184" y2="0"><stop offset="-0.0101" stop-color="#fff" stop-opacity="0.3"/><stop offset="0.0404" stop-color="#fff" stop-opacity="0.95"/><stop offset="0.3030" stop-color="#fff" stop-opacity="1.0"/><stop offset="0.6566" stop-color="#fff" stop-opacity="0.75"/><stop offset="0.9394" stop-color="#fff" stop-opacity="0.4"/><stop offset="1.0000" stop-color="#fff" stop-opacity="0.2"/></linearGradient><mask id="g17" maskUnits="userSpaceOnUse" x="1065" y="99" width="139" height="339"><rect x="1065" y="99" width="139" height="339" fill="url(#g16)"/></mask><clipPath id="g18"><rect x="1085" y="125" width="99" height="315" rx="16" ry="16"/></clipPath><linearGradient id="g19" gradientUnits="userSpaceOnUse" x1="0" y1="413" x2="0" y2="446"><stop offset="0" stop-color="#000" stop-opacity="0.17"/><stop offset="1" stop-color="#000" stop-opacity="0.32"/></linearGradient><linearGradient id="g20" gradientUnits="userSpaceOnUse" x1="1180" y1="0" x2="1290" y2="0"><stop offset="0" stop-color="#101010"/><stop offset="0.3" stop-color="#555"/><stop offset="0.6" stop-color="#d5d5d5"/><stop offset="0.78" stop-color="#fafafa"/><stop offset="1" stop-color="#c8c8c8"/></linearGradient><linearGradient id="g21" gradientUnits="userSpaceOnUse" x1="1655" y1="0" x2="1685" y2="0"><stop offset="0" stop-color="#000" stop-opacity="0.05"/><stop offset="1" stop-color="#000" stop-opacity="0.0"/></linearGradient><linearGradient id="g22" gradientUnits="userSpaceOnUse" x1="0" y1="129" x2="0" y2="418"><stop offset="-0.0069" stop-color="#000" stop-opacity="0.0"/><stop offset="0.0346" stop-color="#000" stop-opacity="0.62"/><stop offset="0.1419" stop-color="#000" stop-opacity="0.7"/><stop offset="0.4533" stop-color="#000" stop-opacity="0.64"/><stop offset="0.7647" stop-color="#000" stop-opacity="0.52"/><stop offset="0.9550" stop-color="#000" stop-opacity="0.4"/><stop offset="1.0000" stop-color="#000" stop-opacity="0.35"/></linearGradient><linearGradient id="g23" gradientUnits="userSpaceOnUse" x1="1560" y1="0" x2="1660" y2="0"><stop offset="0.0000" stop-color="#fff" stop-opacity="0.25"/><stop offset="0.0700" stop-color="#fff" stop-opacity="0.95"/><stop offset="0.3500" stop-color="#fff" stop-opacity="1.0"/><stop offset="0.6000" stop-color="#fff" stop-opacity="0.85"/><stop offset="0.7200" stop-color="#fff" stop-opacity="0.5"/><stop offset="0.8800" stop-color="#fff" stop-opacity="0.25"/><stop offset="1.0000" stop-color="#fff" stop-opacity="0.1"/></linearGradient><mask id="g24" maskUnits="userSpaceOnUse" x="1540" y="109" width="140" height="329"><rect x="1540" y="109" width="140" height="329" fill="url(#g23)"/></mask><clipPath id="g25"><rect x="1560" y="135" width="100" height="305" rx="16" ry="16"/></clipPath><linearGradient id="g26" gradientUnits="userSpaceOnUse" x1="0" y1="413" x2="0" y2="446"><stop offset="0" stop-color="#000" stop-opacity="0.24"/><stop offset="1" stop-color="#000" stop-opacity="0.42"/></linearGradient><linearGradient id="g27" gradientUnits="userSpaceOnUse" x1="1570" y1="0" x2="1746" y2="0"><stop offset="0" stop-color="#3c3c3c"/><stop offset="0.45" stop-color="#555555"/><stop offset="0.72" stop-color="#a0a0a0"/><stop offset="0.9" stop-color="#f4f4f4"/><stop offset="1" stop-color="#e0e0e0"/></linearGradient></defs>
<text transform="translate(496.50 815.20)" style="font-family:'Liberation Serif','Times New Roman',serif;font-weight:bold;font-size:56px">E</text>
<text transform="translate(369.40 898.30)" style="font-family:'Liberation Sans',Arial,sans-serif;font-weight:bold;font-size:45.8px">Early apoptosis</text>
<path d="M194.3 951.3V1416.0M180.9 1416.0H890.2" stroke="#000" stroke-width="4.6" fill="none"/>
<line x1="180.9" y1="1416.0" x2="194.3" y2="1416.0" stroke="#000" stroke-width="4.4"/>
<text transform="translate(175.30 1427.20)" style="font-family:'Liberation Sans',Arial,sans-serif;font-weight:bold;font-size:35.5px" text-anchor="end">0</text>
<line x1="180.9" y1="1323.5" x2="194.3" y2="1323.5" stroke="#000" stroke-width="4.4"/>
<text transform="translate(175.30 1334.70)" style="font-family:'Liberation Sans',Arial,sans-serif;font-weight:bold;font-size:35.5px" text-anchor="end">5</text>
<line x1="180.9" y1="1231.0" x2="194.3" y2="1231.0" stroke="#000" stroke-width="4.4"/>
<text transform="translate(175.30 1242.20)" style="font-family:'Liberation Sans',Arial,sans-serif;font-weight:bold;font-size:35.5px" text-anchor="end">10</text>
<line x1="180.9" y1="1138.5" x2="194.3" y2="1138.5" stroke="#000" stroke-width="4.4"/>
<text transform="translate(175.30 1149.70)" style="font-family:'Liberation Sans',Arial,sans-serif;font-weight:bold;font-size:35.5px" text-anchor="end">15</text>
<line x1="180.9" y1="1046.0" x2="194.3" y2="1046.0" stroke="#000" stroke-width="4.4"/>
<text transform="translate(175.30 1057.20)" style="font-family:'Liberation Sans',Arial,sans-serif;font-weight:bold;font-size:35.5px" text-anchor="end">20</text>
<line x1="180.9" y1="953.5" x2="194.3" y2="953.5" stroke="#000" stroke-width="4.4"/>
<text transform="translate(175.30 964.70)" style="font-family:'Liberation Sans',Arial,sans-serif;font-weight:bold;font-size:35.5px" text-anchor="end">25</text>
<line x1="280.5" y1="1416.0" x2="280.5" y2="1428.8" stroke="#000" stroke-width="5"/>
<line x1="453.7" y1="1416.0" x2="453.7" y2="1428.8" stroke="#000" stroke-width="5"/>
<line x1="626.7" y1="1416.0" x2="626.7" y2="1428.8" stroke="#000" stroke-width="5"/>
<line x1="799.9" y1="1416.0" x2="799.9" y2="1428.8" stroke="#000" stroke-width="5"/>
<text transform="translate(280.70 1469.60) scale(1.0250 1)" style="font-family:'Liberation Sans',Arial,sans-serif;font-weight:bold;font-size:38.3px" text-anchor="middle">Control</text>
<text transform="translate(453.90 1469.60) scale(1.0250 1)" style="font-family:'Liberation Sans',Arial,sans-serif;font-weight:bold;font-size:38.3px" text-anchor="middle">MA+Inf-</text>
<text transform="translate(626.90 1469.60) scale(1.0250 1)" style="font-family:'Liberation Sans',Arial,sans-serif;font-weight:bold;font-size:38.3px" text-anchor="middle">MA-Inf+</text>
<text transform="translate(800.10 1469.60) scale(1.0250 1)" style="font-family:'Liberation Sans',Arial,sans-serif;font-weight:bold;font-size:38.3px" text-anchor="middle">MA+Inf+</text>
<text transform="translate(115.00 1182.50) rotate(-90) scale(0.9850 1)" style="font-family:'Liberation Sans',Arial,sans-serif;font-weight:bold;font-size:39.6px" text-anchor="middle">% of total cells</text>
<circle cx="266.5" cy="1271.4" r="9.3" fill="none" stroke="#000" stroke-width="4.4"/>
<circle cx="294.8" cy="1283.3" r="9.3" fill="none" stroke="#000" stroke-width="4.4"/>
<circle cx="252.1" cy="1306.9" r="9.3" fill="none" stroke="#000" stroke-width="4.4"/>
<circle cx="280.6" cy="1319.5" r="9.3" fill="none" stroke="#000" stroke-width="4.4"/>
<circle cx="309.0" cy="1315.0" r="9.3" fill="none" stroke="#000" stroke-width="4.4"/>
<path d="M223.0 1299.2H338.0" stroke="#000" stroke-width="4.4"/>
<path d="M280.5 1278.5V1319.9M252.0 1278.5H309.0M252.0 1319.9H309.0" stroke="#000" stroke-width="6.6" fill="none"/>
<circle cx="453.7" cy="1041.9" r="11.3" fill="#000"/>
<circle cx="453.7" cy="1183.4" r="11.3" fill="#000"/>
<circle cx="425.4" cy="1216.2" r="11.3" fill="#000"/>
<circle cx="453.7" cy="1230.3" r="11.3" fill="#000"/>
<circle cx="482.0" cy="1220.0" r="11.3" fill="#000"/>
<path d="M396.2 1178.4H511.2" stroke="#000" stroke-width="4.4"/>
<path d="M453.7 1100.0V1256.1M425.2 1100.0H482.2M425.2 1256.1H482.2" stroke="#000" stroke-width="6.6" fill="none"/>
<circle cx="613.0" cy="1281.3" r="11.3" fill="#000"/>
<circle cx="641.1" cy="1283.3" r="11.3" fill="#000"/>
<circle cx="598.5" cy="1314.5" r="11.3" fill="#000"/>
<circle cx="655.2" cy="1316.1" r="11.3" fill="#000"/>
<circle cx="626.7" cy="1336.3" r="11.3" fill="#000"/>
<path d="M569.2 1306.2H684.2" stroke="#000" stroke-width="4.4"/>
<path d="M626.7 1282.6V1329.4M598.2 1282.6H655.2M598.2 1329.4H655.2" stroke="#000" stroke-width="6.6" fill="none"/>
<circle cx="800.2" cy="1151.4" r="11.3" fill="#000"/>
<circle cx="785.8" cy="1222.5" r="11.3" fill="#000"/>
<circle cx="814.5" cy="1226.6" r="11.3" fill="#000"/>
<circle cx="828.8" cy="1223.4" r="11.3" fill="#000"/>
<circle cx="785.8" cy="1254.3" r="11.3" fill="#000"/>
<path d="M742.5 1215.3H857.5" stroke="#000" stroke-width="4.4"/>
<path d="M800.0 1177.4V1253.6M771.5 1177.4H828.5M771.5 1253.6H828.5" stroke="#000" stroke-width="6.6" fill="none"/>
<text transform="translate(1385.30 824.20)" style="font-family:'Liberation Serif','Times New Roman',serif;font-weight:bold;font-size:56px">F</text>
<text transform="translate(1274.60 902.50)" style="font-family:'Liberation Sans',Arial,sans-serif;font-weight:bold;font-size:45.8px">Late apoptosis</text>
<path d="M1089.5 955.5V1420.5M1076.1 1420.5H1785.0" stroke="#000" stroke-width="4.6" fill="none"/>
<line x1="1076.1" y1="1420.5" x2="1089.5" y2="1420.5" stroke="#000" stroke-width="4.4"/>
<text transform="translate(1070.50 1431.70)" style="font-family:'Liberation Sans',Arial,sans-serif;font-weight:bold;font-size:35.5px" text-anchor="end">0</text>
<line x1="1076.1" y1="1304.8" x2="1089.5" y2="1304.8" stroke="#000" stroke-width="4.4"/>
<text transform="translate(1070.50 1316.00)" style="font-family:'Liberation Sans',Arial,sans-serif;font-weight:bold;font-size:35.5px" text-anchor="end">10</text>
<line x1="1076.1" y1="1189.1" x2="1089.5" y2="1189.1" stroke="#000" stroke-width="4.4"/>
<text transform="translate(1070.50 1200.30)" style="font-family:'Liberation Sans',Arial,sans-serif;font-weight:bold;font-size:35.5px" text-anchor="end">20</text>
<line x1="1076.1" y1="1073.4" x2="1089.5" y2="1073.4" stroke="#000" stroke-width="4.4"/>
<text transform="translate(1070.50 1084.60)" style="font-family:'Liberation Sans',Arial,sans-serif;font-weight:bold;font-size:35.5px" text-anchor="end">30</text>
<line x1="1076.1" y1="957.7" x2="1089.5" y2="957.7" stroke="#000" stroke-width="4.4"/>
<text transform="translate(1070.50 968.90)" style="font-family:'Liberation Sans',Arial,sans-serif;font-weight:bold;font-size:35.5px" text-anchor="end">40</text>
<line x1="1176.2" y1="1420.5" x2="1176.2" y2="1433.3" stroke="#000" stroke-width="5"/>
<line x1="1349.2" y1="1420.5" x2="1349.2" y2="1433.3" stroke="#000" stroke-width="5"/>
<line x1="1522.2" y1="1420.5" x2="1522.2" y2="1433.3" stroke="#000" stroke-width="5"/>
<line x1="1695.1" y1="1420.5" x2="1695.1" y2="1433.3" stroke="#000" stroke-width="5"/>
<text transform="translate(1176.40 1474.10) scale(1.0250 1)" style="font-family:'Liberation Sans',Arial,sans-serif;font-weight:bold;font-size:38.3px" text-anchor="middle">Control</text>
<text transform="translate(1349.40 1474.10) scale(1.0250 1)" style="font-family:'Liberation Sans',Arial,sans-serif;font-weight:bold;font-size:38.3px" text-anchor="middle">MA+Inf-</text>
<text transform="translate(1522.40 1474.10) scale(1.0250 1)" style="font-family:'Liberation Sans',Arial,sans-serif;font-weight:bold;font-size:38.3px" text-anchor="middle">MA-Inf+</text>
<text transform="translate(1695.30 1474.10) scale(1.0250 1)" style="font-family:'Liberation Sans',Arial,sans-serif;font-weight:bold;font-size:38.3px" text-anchor="middle">MA+Inf+</text>
<text transform="translate(1011.10 1187.50) rotate(-90) scale(0.9850 1)" style="font-family:'Liberation Sans',Arial,sans-serif;font-weight:bold;font-size:39.6px" text-anchor="middle">% of total cells</text>
<circle cx="1176.0" cy="1234.4" r="9.3" fill="none" stroke="#000" stroke-width="4.4"/>
<circle cx="1133.5" cy="1254.7" r="9.3" fill="none" stroke="#000" stroke-width="4.4"/>
<circle cx="1218.3" cy="1254.0" r="9.3" fill="none" stroke="#000" stroke-width="4.4"/>
<circle cx="1161.7" cy="1273.6" r="9.3" fill="none" stroke="#000" stroke-width="4.4"/>
<circle cx="1190.2" cy="1265.1" r="9.3" fill="none" stroke="#000" stroke-width="4.4"/>
<path d="M1118.1 1256.2H1233.1" stroke="#000" stroke-width="4.4"/>
<path d="M1175.6 1241.6V1270.6M1147.1 1241.6H1204.1M1147.1 1270.6H1204.1" stroke="#000" stroke-width="6.6" fill="none"/>
<circle cx="1349.1" cy="1092.5" r="11.3" fill="#000"/>
<circle cx="1306.8" cy="1118.0" r="11.3" fill="#000"/>
<circle cx="1391.5" cy="1108.1" r="11.3" fill="#000"/>
<circle cx="1334.7" cy="1129.5" r="11.3" fill="#000"/>
<circle cx="1363.1" cy="1126.5" r="11.3" fill="#000"/>
<path d="M1291.3 1114.7H1406.3" stroke="#000" stroke-width="4.4"/>
<path d="M1348.8 1100.3V1129.5M1320.3 1100.3H1377.3M1320.3 1129.5H1377.3" stroke="#000" stroke-width="6.6" fill="none"/>
<circle cx="1522.2" cy="1209.3" r="11.3" fill="#000"/>
<circle cx="1522.2" cy="1246.1" r="11.3" fill="#000"/>
<circle cx="1494.0" cy="1275.8" r="11.3" fill="#000"/>
<circle cx="1522.2" cy="1285.3" r="11.3" fill="#000"/>
<circle cx="1550.6" cy="1282.2" r="11.3" fill="#000"/>
<path d="M1464.6 1259.6H1579.6" stroke="#000" stroke-width="4.4"/>
<path d="M1522.1 1227.5V1292.1M1493.6 1227.5H1550.6M1493.6 1292.1H1550.6" stroke="#000" stroke-width="6.6" fill="none"/>
<circle cx="1723.8" cy="1013.5" r="11.3" fill="#000"/>
<circle cx="1667.3" cy="1028.8" r="11.3" fill="#000"/>
<circle cx="1695.4" cy="1029.2" r="11.3" fill="#000"/>
<circle cx="1709.6" cy="1056.1" r="11.3" fill="#000"/>
<circle cx="1681.2" cy="1070.9" r="11.3" fill="#000"/>
<path d="M1637.8 1039.5H1752.8" stroke="#000" stroke-width="4.4"/>
<path d="M1695.3 1016.5V1062.4M1666.8 1016.5H1723.8M1666.8 1062.4H1723.8" stroke="#000" stroke-width="6.6" fill="none"/>
<path d="M365.1 1543.3V1726.0M538.8 1543.3V1726.0M713.6 1543.3V1726.0M887.7 1543.3V1726.0" stroke="#000" stroke-width="1.6" fill="none"/>
<path d="M190.3 1588.9H538.8M190.3 1633.8H713.6M190.3 1680.0H887.7M190.3 1726.0H887.7" stroke="#000" stroke-width="1.6" fill="none"/>
<text transform="translate(207.20 1578.60) scale(0.9750 1)" style="font-family:'Liberation Serif','Times New Roman',serif;font-weight:bold;font-size:39px">Groups</text>
<text transform="translate(382.50 1578.60) scale(0.9580 1)" style="font-family:'Liberation Serif','Times New Roman',serif;font-size:39px">Control</text>
<text transform="translate(207.20 1623.50) scale(0.9750 1)" style="font-family:'Liberation Serif','Times New Roman',serif;font-size:39px">MA<tspan dy="-13" style="font-size:25px">-</tspan><tspan dy="13">Inf</tspan><tspan dy="-13" style="font-size:25px">+</tspan></text>
<text transform="translate(207.20 1669.50) scale(0.9750 1)" style="font-family:'Liberation Serif','Times New Roman',serif;font-size:39px">MA<tspan dy="-13" style="font-size:25px">+</tspan><tspan dy="13">Inf</tspan><tspan dy="-13" style="font-size:25px">+</tspan></text>
<text transform="translate(207.20 1715.00) scale(0.9750 1)" style="font-family:'Liberation Serif','Times New Roman',serif;font-size:39px">MA<tspan dy="-13" style="font-size:25px">+</tspan><tspan dy="13">Inf</tspan><tspan dy="-13" style="font-size:25px">-</tspan></text>
<text transform="translate(556.50 1623.50) scale(0.9750 1)" style="font-family:'Liberation Serif','Times New Roman',serif;font-size:39px">MA<tspan dy="-13" style="font-size:25px">-</tspan><tspan dy="13">Inf</tspan><tspan dy="-13" style="font-size:25px">+</tspan></text>
<text transform="translate(730.50 1669.50) scale(0.9750 1)" style="font-family:'Liberation Serif','Times New Roman',serif;font-size:39px">MA<tspan dy="-13" style="font-size:25px">+</tspan><tspan dy="13">Inf</tspan><tspan dy="-13" style="font-size:25px">+</tspan></text>
<text transform="translate(382.50 1623.50) scale(0.9750 1)" style="font-family:'Liberation Serif','Times New Roman',serif;font-size:39px">0.995</text>
<text transform="translate(382.50 1669.50) scale(0.9750 1)" style="font-family:'Liberation Serif','Times New Roman',serif;font-size:39px">0.050</text>
<text transform="translate(382.50 1715.00) scale(0.9750 1)" style="font-family:'Liberation Serif','Times New Roman',serif;font-size:39px">0.004</text>
<text transform="translate(556.50 1669.50) scale(0.9750 1)" style="font-family:'Liberation Serif','Times New Roman',serif;font-size:39px">0.032</text>
<text transform="translate(556.50 1715.00) scale(0.9750 1)" style="font-family:'Liberation Serif','Times New Roman',serif;font-size:39px">0.003</text>
<text transform="translate(730.50 1715.00) scale(0.9750 1)" style="font-family:'Liberation Serif','Times New Roman',serif;font-size:39px">0.596</text>
<path d="M1266.2 1545.2V1729.2M1427.0 1545.2V1729.2M1592.4 1545.2V1729.2M1764.2 1545.2V1729.2" stroke="#000" stroke-width="1.6" fill="none"/>
<path d="M1092.2 1589.7H1427.0M1092.2 1636.4H1592.4M1092.2 1682.8H1764.2M1092.2 1729.2H1764.2" stroke="#000" stroke-width="1.6" fill="none"/>
<text transform="translate(1110.00 1579.40) scale(0.9750 1)" style="font-family:'Liberation Serif','Times New Roman',serif;font-weight:bold;font-size:39px">Groups</text>
<text transform="translate(1284.50 1579.40) scale(0.9580 1)" style="font-family:'Liberation Serif','Times New Roman',serif;font-size:39px">Control</text>
<text transform="translate(1110.00 1624.20) scale(0.9750 1)" style="font-family:'Liberation Serif','Times New Roman',serif;font-size:39px">MA<tspan dy="-13" style="font-size:25px">-</tspan><tspan dy="13">Inf</tspan><tspan dy="-13" style="font-size:25px">+</tspan></text>
<text transform="translate(1110.00 1670.60) scale(0.9750 1)" style="font-family:'Liberation Serif','Times New Roman',serif;font-size:39px">MA<tspan dy="-13" style="font-size:25px">+</tspan><tspan dy="13">Inf</tspan><tspan dy="-13" style="font-size:25px">+</tspan></text>
<text transform="translate(1110.00 1716.60) scale(0.9750 1)" style="font-family:'Liberation Serif','Times New Roman',serif;font-size:39px">MA<tspan dy="-13" style="font-size:25px">+</tspan><tspan dy="13">Inf</tspan><tspan dy="-13" style="font-size:25px">-</tspan></text>
<text transform="translate(1444.00 1624.20) scale(0.9750 1)" style="font-family:'Liberation Serif','Times New Roman',serif;font-size:39px">MA<tspan dy="-13" style="font-size:25px">-</tspan><tspan dy="13">Inf</tspan><tspan dy="-13" style="font-size:25px">+</tspan></text>
<text transform="translate(1609.50 1670.60) scale(0.9750 1)" style="font-family:'Liberation Serif','Times New Roman',serif;font-size:39px">MA<tspan dy="-13" style="font-size:25px">+</tspan><tspan dy="13">Inf</tspan><tspan dy="-13" style="font-size:25px">+</tspan></text>
<text transform="translate(1284.50 1624.20) scale(0.9750 1)" style="font-family:'Liberation Serif','Times New Roman',serif;font-size:39px">0.9943</text>
<text transform="translate(1284.50 1670.60) scale(0.9750 1)" style="font-family:'Liberation Serif','Times New Roman',serif;font-size:39px">0.0002</text>
<text transform="translate(1284.50 1716.60) scale(0.9750 1)" style="font-family:'Liberation Serif','Times New Roman',serif;font-size:39px">0.0002</text>
<text transform="translate(1444.00 1670.60) scale(0.9750 1)" style="font-family:'Liberation Serif','Times New Roman',serif;font-size:39px">0.0002</text>
<text transform="translate(1444.00 1716.60) scale(0.9750 1)" style="font-family:'Liberation Serif','Times New Roman',serif;font-size:39px">0.0002</text>
<text transform="translate(1609.50 1716.60) scale(0.9750 1)" style="font-family:'Liberation Serif','Times New Roman',serif;font-size:39px">0.0005</text>
</svg></body></html>
